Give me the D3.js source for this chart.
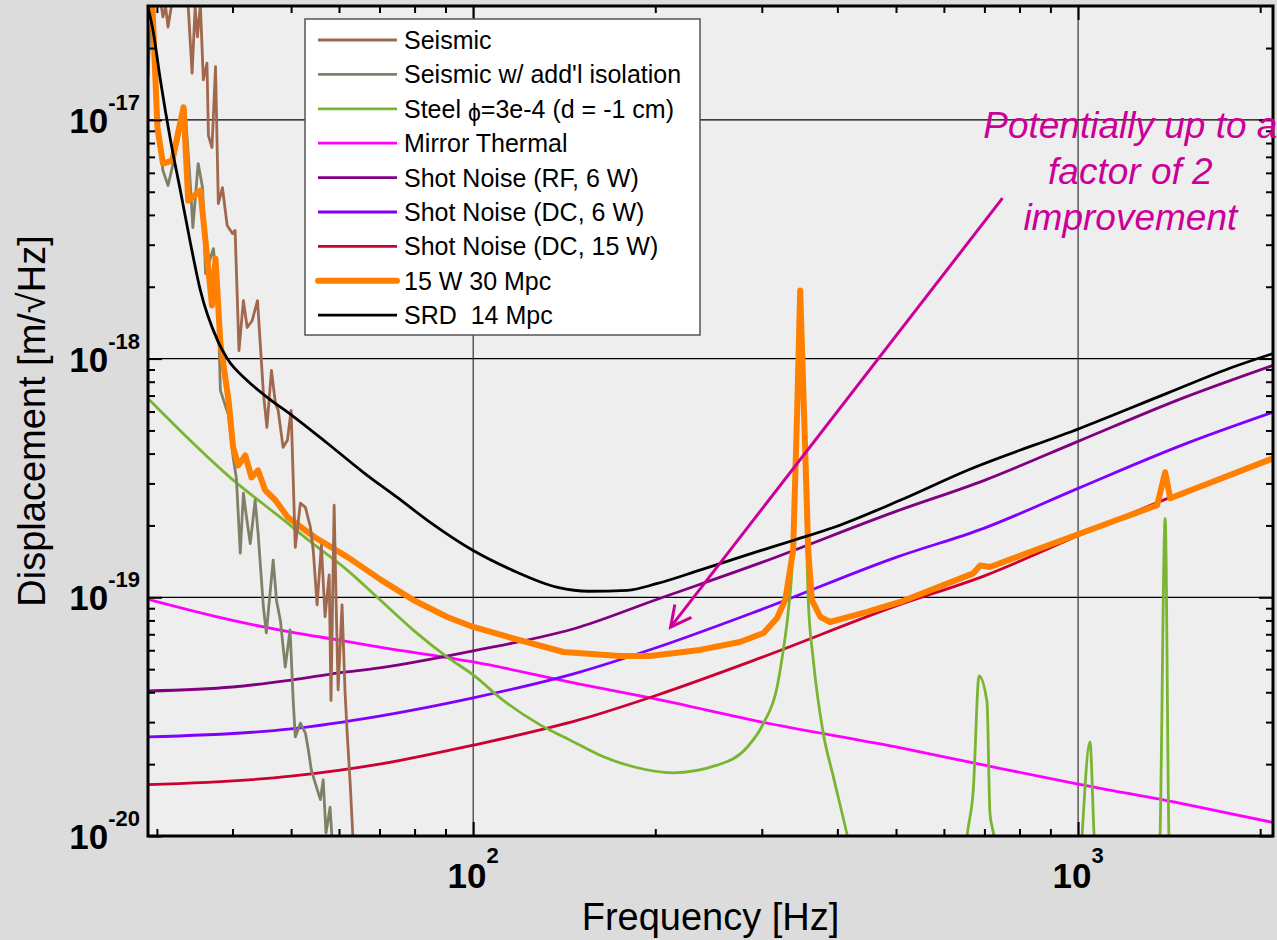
<!DOCTYPE html>
<html>
<head>
<meta charset="utf-8">
<title>Displacement noise budget</title>
<script src="https://cdn.jsdelivr.net/npm/d3@7/dist/d3.min.js"></script>
<style>
    body { margin: 0; background: #dcdcdc; }
    svg text { font-family: "Liberation Sans", Arial, sans-serif; white-space: pre; }
</style>
</head>
<body>
<div id="chart"></div>
<script>
// axes
const xDomain = [29, 2100];
const yDomain = [1e-20, 3e-17];
const xMajor = [100, 1000];
const xMinor = [30, 40, 50, 60, 70, 80, 90, 200, 300, 400, 500, 600, 700, 800, 900, 2000];
const yMajor = [1e-20, 1e-19, 1e-18, 1e-17];
const yMinor = [2e-20, 3e-20, 4e-20, 5e-20, 6e-20, 7e-20, 8e-20, 9e-20,
    2e-19, 3e-19, 4e-19, 5e-19, 6e-19, 7e-19, 8e-19, 9e-19,
    2e-18, 3e-18, 4e-18, 5e-18, 6e-18, 7e-18, 8e-18, 9e-18, 2e-17];

// [frequency Hz, displacement m/rtHz]
const seismic = [[30.1,4e-17],[30.5,3.0e-17],[30.7,2.7e-17],[31.0,3.0e-17],[31.3,2.45e-17],[31.7,3.0e-17],[32.0,4e-17],
    [33.5,4e-17],[33.8,2.97e-17],[34.3,1.57e-17],[34.7,2.97e-17],[35.0,2.23e-17],[35.4,3.03e-17],[35.8,1.47e-17],
    [36.3,1.73e-17],[36.5,8.6e-18],[37.0,7.66e-18],[37.5,1.67e-17],[37.9,4.46e-18],[38.5,5.2e-18],[39.2,3.61e-18],
    [40.0,3.34e-18],[40.4,3.44e-18],[40.7,1.93e-18],[41.0,1.08e-18],[41.7,1.75e-18],[42.3,1.35e-18],[43.1,1.44e-18],
    [44.0,1.75e-18],[45.0,7.15e-19],[45.6,5.15e-19],[46.4,8.93e-19],[47.1,6.5e-19],[47.6,6.07e-19],[48.5,4.25e-19],
    [49.3,4.55e-19],[50.0,6.07e-19],[50.8,1.62e-19],[51.8,2.48e-19],[52.8,2.38e-19],[53.8,1.97e-19],[54.4,1.57e-19],
    [55.2,9.3e-20],[56.1,1.65e-19],[56.9,8.3e-20],[57.8,1.24e-19],[58.2,3.7e-20],[58.9,2.43e-19],[59.4,8.6e-20],
    [59.8,4.1e-20],[60.7,9.3e-20],[61.4,4.0e-20],[61.9,2.7e-20],[62.6,1.67e-20],[63.3,9.6e-21]];

const seismicIso = [[29.0,1.51e-17],[29.2,2.27e-17],[29.5,2.89e-17],[30.1,9.46e-18],[30.7,6.13e-18],[31.3,5.31e-18],
    [31.8,6.31e-18],[32.5,8.19e-18],[33.4,1.12e-17],[34.1,5.2e-18],[34.4,3.54e-18],[35.1,6.56e-18],[35.7,5.2e-18],
    [36.1,2.27e-18],[37.2,2.89e-18],[37.8,1.87e-18],[38.2,7.36e-19],[39.4,5.79e-19],[40.1,3.86e-19],[40.6,3.15e-19],
    [41.2,1.53e-19],[41.7,2.73e-19],[42.2,2.16e-19],[42.8,1.68e-19],[43.6,2.55e-19],[44.1,1.85e-19],[45.0,9.1e-20],
    [45.5,7.1e-20],[46.7,1.43e-19],[47.3,9.7e-20],[48.0,8.0e-20],[48.9,5.1e-20],[49.8,7.3e-20],[50.4,3.7e-20],
    [50.8,2.6e-20],[51.8,2.97e-20],[52.8,2.7e-20],[53.4,2.29e-20],[54.0,1.89e-20],[54.8,1.67e-20],[55.9,1.42e-20],
    [56.5,1.72e-20],[57.1,1.03e-20],[58.0,1.32e-20],[58.5,9.2e-21]];

const steel = [[29,6.8e-19],[39.8,3.15e-19],[48,2.16e-19],[54.8,1.65e-19],[61.9,1.30e-19],[70.2,9.74e-20],
    [79.6,7.29e-20],[90.6,5.62e-20],[100,4.73e-20],[112,3.71e-20],[129,2.92e-20],[144.7,2.52e-20],[162,2.18e-20],
    [184,1.95e-20],[214,1.84e-20],[253,1.98e-20],[284,2.36e-20],[302,2.97e-20],[318,4.21e-20],[325,5.84e-20],
    [332,8.85e-20],[337,1.43e-19],[342,5.51e-19],[347,1.75e-18],[352.5,5.51e-19],[358,9.74e-20],[365,5.46e-20],
    [379,2.70e-20],[394,1.77e-20],[417,9.6e-21],[440,5e-21],[640,5e-21],[655,9.9e-21],[671,1.56e-20],
    [686,4.68e-20],[707,3.64e-20],[715,1.25e-20],[726,9.9e-21],[740,5e-21],[1000,5e-21],[1015,9.9e-21],
    [1046,2.48e-20],[1063,9.9e-21],[1080,5e-21],[1350,5e-21],[1366,9.9e-21],[1393,2.14e-19],[1413,9.9e-21],
    [1430,5e-21],[2100,5e-21]];

const mirrorThermal = [[29,9.8e-20],[40,8.0e-20],[50,7.15e-20],[60,6.62e-20],[70,6.19e-20],[100,5.36e-20],
    [150,4.33e-20],[200,3.75e-20],[300,3.0e-20],[500,2.36e-20],[700,1.98e-20],[1000,1.65e-20],[1500,1.36e-20],
    [2100,1.14e-20]];

const shotRF6 = [[29,4.05e-20],[40,4.21e-20],[50,4.5e-20],[60,4.82e-20],[70,5.06e-20],[100,5.96e-20],[150,7.51e-20],
    [200,9.74e-20],[300,1.40e-19],[500,2.29e-19],[700,3.09e-19],[1000,4.50e-19],[1500,6.88e-19],[2100,9.37e-19]];

const shotDC6 = [[29,2.6e-20],[50,2.81e-20],[70,3.18e-20],[100,3.79e-20],[150,4.86e-20],[200,6.13e-20],[300,8.9e-20],
    [500,1.47e-19],[700,1.95e-19],[1000,2.86e-19],[1500,4.38e-19],[2100,5.96e-19]];

const shotDC15 = [[29,1.64e-20],[50,1.78e-20],[70,2.0e-20],[100,2.4e-20],[150,3.07e-20],[200,3.87e-20],[300,5.6e-20],
    [500,9.2e-20],[700,1.23e-19],[1000,1.81e-19],[1500,2.77e-19],[2100,3.8e-19]];

const total15W = [[29.3,3.3e-17],[29.5,2.97e-17],[30.06,9.29e-18],[30.7,6.56e-18],[31.8,6.75e-18],[33.2,1.13e-17],
    [33.8,4.59e-18],[35.4,5.06e-18],[36.3,2.70e-18],[37.0,1.67e-18],[37.5,2.62e-18],[38.2,1.16e-18],[39.4,6.69e-19],
    [40.1,4.25e-19],[40.9,3.57e-19],[42.0,3.93e-19],[43.0,3.18e-19],[44.1,3.40e-19],[45.3,2.81e-19],[47.1,2.55e-19],
    [49.4,2.16e-19],[54.8,1.78e-19],[62.1,1.47e-19],[70.5,1.18e-19],[79.6,9.74e-20],[90.6,8.27e-20],[100,7.51e-20],
    [116,6.75e-20],[141,5.90e-20],[175,5.68e-20],[196,5.68e-20],[237,6.02e-20],[276,6.50e-20],[302,7.09e-20],
    [318,8.19e-20],[328,9.74e-20],[334,1.30e-19],[338,1.57e-19],[343,5.68e-19],[347.2,1.93e-18],[352.5,5.68e-19],
    [358,1.57e-19],[363,9.74e-20],[375,8.27e-20],[389,7.88e-20],[448,8.68e-20],[508,9.56e-20],[671,1.26e-19],
    [689,1.36e-19],[715,1.34e-19],[1008,1.85e-19],[1351,2.43e-19],[1393,3.34e-19],[1420,2.60e-19],[2100,3.82e-19]];

const srd = [[29,2.97e-17],[29.6,2.32e-17],[30.4,1.47e-17],[31.6,8.2e-18],[32.8,5.06e-18],[34.1,3.03e-18],
    [35.4,1.93e-18],[37.8,1.19e-18],[39.2,1.0e-18],[42.3,8.1e-19],[45.6,6.9e-19],[50.4,5.73e-19],[57.4,4.42e-19],
    [65.8,3.34e-19],[74.9,2.62e-19],[84.9,2.06e-19],[100,1.57e-19],[116,1.30e-19],[138,1.10e-19],[155,1.06e-19],
    [180,1.07e-19],[201,1.14e-19],[237,1.30e-19],[287,1.52e-19],[338,1.73e-19],[394,1.96e-19],[508,2.55e-19],
    [655,3.4e-19],[1008,5.11e-19],[1402,7.15e-19],[1804,9.22e-19],[2100,1.05e-18]];

// annotation
const noteLines = ["Potentially up to a", "factor of 2", "improvement"];
const noteAt = [1220, 8.4e-18];
const arrowFrom = [750, 4.7e-18];
const arrowTo = [212, 7.5e-20];

const series = [
    { name: "Seismic", data: seismic, color: "#a0684c", width: 2.8, smooth: false },
    { name: "Seismic w/ add'l isolation", data: seismicIso, color: "#808069", width: 2.8, smooth: false },
    { name: "Steel", data: steel, color: "#7ab532", width: 2.8, smooth: true },
    { name: "Mirror Thermal", data: mirrorThermal, color: "#ff00ff", width: 2.8, smooth: true },
    { name: "Shot Noise (RF, 6 W)", data: shotRF6, color: "#800080", width: 2.8, smooth: true },
    { name: "Shot Noise (DC, 6 W)", data: shotDC6, color: "#8000ff", width: 2.8, smooth: true },
    { name: "Shot Noise (DC, 15 W)", data: shotDC15, color: "#cc0033", width: 2.8, smooth: true },
    { name: "15 W 30 Mpc", data: total15W, color: "#ff8000", width: 6, smooth: false },
    { name: "SRD  14 Mpc", data: srd, color: "#000000", width: 2.8, smooth: true }
];
const drawOrder = [3, 4, 5, 6, 2, 1, 7, 0, 8];

class NoiseChart {
    constructor(parentElement) {
        this.parentElement = parentElement;
        this.initVis();
    }

    initVis() {
        let vis = this;

        vis.margin = { top: 6, right: 4, bottom: 104, left: 148 };
        vis.width = 1277 - vis.margin.left - vis.margin.right;
        vis.height = 940 - vis.margin.top - vis.margin.bottom;

        vis.root = d3.select("#" + vis.parentElement).append("svg")
            .attr("width", 1277)
            .attr("height", 940);

        vis.root.append("rect")
            .attr("width", 1277)
            .attr("height", 940)
            .attr("fill", "#dcdcdc");

        vis.svg = vis.root.append("g")
            .attr("transform", `translate(${vis.margin.left}, ${vis.margin.top})`);

        vis.x = d3.scaleLog().domain(xDomain).range([0, vis.width]);
        vis.y = d3.scaleLog().domain(yDomain).range([vis.height, 0]);

        vis.svg.append("defs").append("clipPath")
            .attr("id", "plot-clip")
            .append("rect")
            .attr("width", vis.width)
            .attr("height", vis.height);

        vis.svg.append("rect")
            .attr("width", vis.width)
            .attr("height", vis.height)
            .attr("fill", "#eeeeee");

        // grid, major decades only
        vis.svg.selectAll(".hgrid")
            .data(yMajor.slice(1))
            .enter().append("line")
            .attr("x1", 0).attr("x2", vis.width)
            .attr("y1", d => vis.y(d)).attr("y2", d => vis.y(d))
            .attr("stroke", "#000").attr("stroke-width", 1.2);

        vis.svg.selectAll(".vgrid")
            .data(xMajor)
            .enter().append("line")
            .attr("y1", 0).attr("y2", vis.height)
            .attr("x1", d => vis.x(d)).attr("x2", d => vis.x(d))
            .attr("stroke", "#333").attr("stroke-width", 1.2);

        vis.drawLines();
        vis.drawAxes();
        vis.drawLegend();
        vis.drawNote();
    }

    drawLines() {
        let vis = this;
        let plot = vis.svg.append("g").attr("clip-path", "url(#plot-clip)");

        drawOrder.forEach(i => {
            let s = series[i];
            let line = d3.line()
                .x(d => vis.x(d[0]))
                .y(d => vis.y(d[1]))
                .curve(s.smooth ? d3.curveMonotoneX : d3.curveLinear);

            plot.append("path")
                .datum(s.data)
                .attr("d", line)
                .attr("fill", "none")
                .attr("stroke", s.color)
                .attr("stroke-width", s.width)
                .attr("stroke-linejoin", "round")
                .attr("stroke-linecap", "round");
        });
    }

    drawAxes() {
        let vis = this;

        let addTicks = (axis, values, size, transform) => {
            vis.svg.append("g")
                .attr("transform", transform)
                .call(axis.tickValues(values).tickSize(-size).tickFormat(""))
                .call(g => g.select(".domain").remove())
                .selectAll("line")
                .attr("stroke", "#000")
                .attr("stroke-width", 2);
        };

        [[xMinor, 7], [xMajor, 14]].forEach(([vals, len]) => {
            addTicks(d3.axisBottom(vis.x), vals, len, `translate(0, ${vis.height})`);
            addTicks(d3.axisTop(vis.x), vals, len, "translate(0, 0)");
        });
        [[yMinor, 7], [yMajor, 14]].forEach(([vals, len]) => {
            addTicks(d3.axisLeft(vis.y), vals, len, "translate(0, 0)");
            addTicks(d3.axisRight(vis.y), vals, len, `translate(${vis.width}, 0)`);
        });

        vis.svg.append("rect")
            .attr("width", vis.width)
            .attr("height", vis.height)
            .attr("fill", "none")
            .attr("stroke", "#000")
            .attr("stroke-width", 3);

        // power-of-ten labels
        vis.svg.selectAll(".y-label")
            .data(yMajor)
            .enter().append("text")
            .attr("class", "y-label")
            .attr("x", -8)
            .attr("y", d => vis.y(d) + 13)
            .attr("text-anchor", "end")
            .style("font-weight", "bold")
            .each(function (d) {
                let t = d3.select(this);
                t.append("tspan").style("font-size", "35px").text("10");
                t.append("tspan").attr("dy", -23).style("font-size", "22px").text(Math.round(Math.log10(d)));
            });

        vis.svg.selectAll(".x-label")
            .data(xMajor)
            .enter().append("text")
            .attr("class", "x-label")
            .attr("x", d => vis.x(d))
            .attr("y", vis.height + 52)
            .attr("text-anchor", "middle")
            .style("font-weight", "bold")
            .each(function (d) {
                let t = d3.select(this);
                t.append("tspan").style("font-size", "35px").text("10");
                t.append("tspan").attr("dy", -25).style("font-size", "22px").text(Math.round(Math.log10(d)));
            });

        vis.svg.append("text")
            .attr("x", vis.width / 2)
            .attr("y", vis.height + 94)
            .attr("text-anchor", "middle")
            .style("font-size", "38px")
            .text("Frequency [Hz]");

        vis.svg.append("text")
            .attr("transform", `translate(${45 - vis.margin.left}, ${vis.height / 2}) rotate(-90)`)
            .attr("text-anchor", "middle")
            .style("font-size", "38px")
            .text("Displacement [m/\u221AHz]");
    }

    drawLegend() {
        let vis = this;
        let legend = vis.root.append("g").attr("transform", "translate(305, 19)");

        legend.append("rect")
            .attr("width", 395)
            .attr("height", 316)
            .attr("fill", "#fff")
            .attr("stroke", "#555")
            .attr("stroke-width", 1.5);

        let rows = legend.selectAll(".row")
            .data(series)
            .enter().append("g")
            .attr("transform", (d, i) => `translate(0, ${21 + i * 34.4})`);

        rows.append("line")
            .attr("x1", 13).attr("x2", 92)
            .attr("stroke", d => d.color)
            .attr("stroke-width", d => d.width)
            .attr("stroke-linecap", d => d.width > 3 ? "round" : "butt");

        rows.append("text")
            .attr("x", 99)
            .attr("dy", "0.36em")
            .style("font-size", "25px")
            .each(function (d) {
                let t = d3.select(this);
                if (d.name === "Steel") {
                    t.append("tspan").text("Steel ");
                    t.append("tspan").attr("dy", 3).style("font-size", "23px").text("\u03D5");
                    t.append("tspan").attr("dy", -3).text("=3e-4 (d = -1 cm)");
                } else {
                    t.text(d.name);
                }
            });
    }

    drawNote() {
        let vis = this;
        let color = "#cc0099";

        let x1 = vis.x(arrowFrom[0]), y1 = vis.y(arrowFrom[1]);
        let x2 = vis.x(arrowTo[0]), y2 = vis.y(arrowTo[1]);
        let ang = Math.atan2(y1 - y2, x1 - x2);
        let head = 23, spread = 27 * Math.PI / 180;

        vis.svg.append("line")
            .attr("x1", x1).attr("y1", y1)
            .attr("x2", x2).attr("y2", y2)
            .attr("stroke", color).attr("stroke-width", 3);

        vis.svg.append("path")
            .attr("d", `M${x2 + head * Math.cos(ang + spread)},${y2 + head * Math.sin(ang + spread)}` +
                `L${x2},${y2}L${x2 + head * Math.cos(ang - spread)},${y2 + head * Math.sin(ang - spread)}`)
            .attr("fill", "none")
            .attr("stroke", color).attr("stroke-width", 3);

        vis.svg.append("text")
            .attr("text-anchor", "middle")
            .style("font-size", "37px")
            .style("font-style", "italic")
            .attr("fill", color)
            .selectAll("tspan")
            .data(noteLines)
            .enter().append("tspan")
            .attr("x", vis.x(noteAt[0]))
            .attr("y", (d, i) => vis.y(noteAt[1]) + i * 46)
            .text(d => d);
    }
}

new NoiseChart("chart");
</script>
</body>
</html>
